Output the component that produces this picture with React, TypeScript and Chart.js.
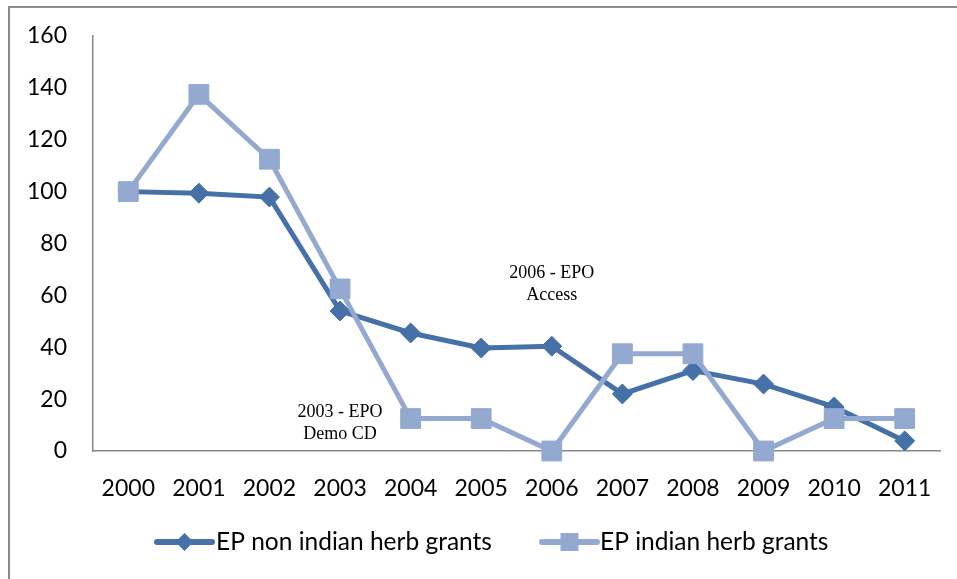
import React, { useEffect, useRef } from "react";
import { Chart, registerables } from "chart.js";

Chart.register(...registerables);

const categories = ["2000", "2001", "2002", "2003", "2004", "2005", "2006", "2007", "2008", "2009", "2010", "2011"];
const nonIndianGrants = [100, 99.4, 97.9, 54, 45.5, 39.7, 40.4, 22, 31, 25.8, 17, 3.9];
const indianGrants = [100, 137.5, 112.5, 62.5, 12.5, 12.5, 0, 37.5, 37.5, 0, 12.5, 12.5];
const seriesLabels = ["EP non indian herb grants", "EP indian herb grants"];
const annotations = [
  { category: "2003", value: 15, lines: ["2003 - EPO", "Demo CD"] },
  { category: "2006", value: 68.5, lines: ["2006 - EPO", "Access"] },
];

const DARK = "#4570A8";
const LIGHT = "#93A9D0";
const AXIS = "#878787";
const TICK_FONT = "Lato";

const annotationPlugin = {
  id: "textAnnotations",
  afterDatasetsDraw(chart: any) {
    const { ctx, scales } = chart;
    ctx.save();
    ctx.font = '18px "Liberation Serif", "Times New Roman", serif';
    ctx.fillStyle = "#000";
    ctx.textAlign = "center";
    ctx.textBaseline = "middle";
    annotations.forEach((a) => {
      const x = scales.x.getPixelForValue(categories.indexOf(a.category));
      const y = scales.y.getPixelForValue(a.value);
      a.lines.forEach((line, i) => ctx.fillText(line, x, y + i * 22));
    });
    ctx.restore();
  },
};

const legendPlugin = {
  id: "lineLegend",
  afterDraw(chart: any) {
    const { ctx } = chart;
    const y = 542;
    const items = [
      { label: seriesLabels[0], color: DARK, style: "diamond", x0: 157, x1: 212, tx: 216, r: 9 },
      { label: seriesLabels[1], color: LIGHT, style: "square", x0: 542, x1: 597, tx: 600, r: 9 },
    ];
    ctx.save();
    items.forEach((it) => {
      ctx.strokeStyle = it.color;
      ctx.lineWidth = 6;
      ctx.lineCap = "round";
      ctx.beginPath();
      ctx.moveTo(it.x0, y);
      ctx.lineTo(it.x1, y);
      ctx.stroke();
      const cx = (it.x0 + it.x1) / 2;
      ctx.fillStyle = it.color;
      ctx.beginPath();
      if (it.style === "diamond") {
        ctx.moveTo(cx, y - it.r);
        ctx.lineTo(cx + it.r, y);
        ctx.lineTo(cx, y + it.r);
        ctx.lineTo(cx - it.r, y);
        ctx.closePath();
      } else {
        ctx.rect(cx - it.r, y - it.r, it.r * 2, it.r * 2);
      }
      ctx.fill();
      ctx.fillStyle = "#000";
      ctx.font = `24.5px ${TICK_FONT}`;
      ctx.textAlign = "left";
      ctx.textBaseline = "middle";
      ctx.fillText(it.label, it.tx, y);
    });
    ctx.restore();
  },
};

export default function App() {
  const canvasRef = useRef<HTMLCanvasElement | null>(null);

  useEffect(() => {
    if (!canvasRef.current) return;
    const chart = new Chart(canvasRef.current, {
      type: "line",
      data: {
        labels: categories,
        datasets: [
          {
            label: seriesLabels[0],
            data: nonIndianGrants,
            borderColor: DARK,
            backgroundColor: DARK,
            borderWidth: 5,
            pointStyle: "rectRot",
            pointRadius: 10,
            pointHoverRadius: 10,
            pointBorderWidth: 1,
            pointBorderColor: DARK,
            pointBackgroundColor: DARK,
            tension: 0,
            clip: false,
            order: 1,
          },
          {
            label: seriesLabels[1],
            data: indianGrants,
            borderColor: LIGHT,
            backgroundColor: LIGHT,
            borderWidth: 5,
            pointStyle: "rect",
            pointRadius: 14,
            pointHoverRadius: 14,
            pointBorderWidth: 1,
            pointBorderColor: LIGHT,
            pointBackgroundColor: LIGHT,
            tension: 0,
            clip: false,
            order: 0,
          },
        ],
      },
      options: {
        responsive: false,
        animation: false,
        devicePixelRatio: 1,
        layout: { padding: { left: 0, right: 17, top: 36, bottom: 78 } },
        plugins: { legend: { display: false }, tooltip: { enabled: false } },
        scales: {
          x: {
            type: "category",
            offset: true,
            grid: { display: false, drawTicks: false },
            border: { display: true, color: AXIS, width: 1.5 },
            ticks: { color: "#000", font: { family: TICK_FONT, size: 23 }, padding: 24, maxRotation: 0, autoSkip: false },
            afterFit(scale: any) {
              scale.height = 50;
              scale.paddingLeft = 0;
              scale.paddingRight = 0;
            },
          },
          y: {
            min: 0,
            max: 160,
            grid: { display: false, drawTicks: false },
            border: { display: true, color: AXIS, width: 1.5 },
            ticks: { stepSize: 20, color: "#000", font: { family: TICK_FONT, size: 23 }, padding: 26 },
            afterFit(scale: any) {
              scale.width = 93;
              scale.paddingTop = 0;
              scale.paddingBottom = 0;
            },
          },
        },
      },
      plugins: [annotationPlugin, legendPlugin],
    });
    return () => chart.destroy();
  }, []);

  return (
    <div style={{ position: "fixed", left: 0, top: 0, width: 957, height: 579, overflow: "hidden", background: "#fff" }}>
      <canvas ref={canvasRef} width={957} height={579} style={{ position: "absolute", left: 0, top: 0 }} />
      <div
        style={{
          position: "absolute",
          left: 8,
          top: 6,
          width: 1200,
          height: 571,
          borderLeft: "2px solid #8c8c8c",
          borderTop: "2px solid #8c8c8c",
          pointerEvents: "none",
        }}
      />
    </div>
  );
}
